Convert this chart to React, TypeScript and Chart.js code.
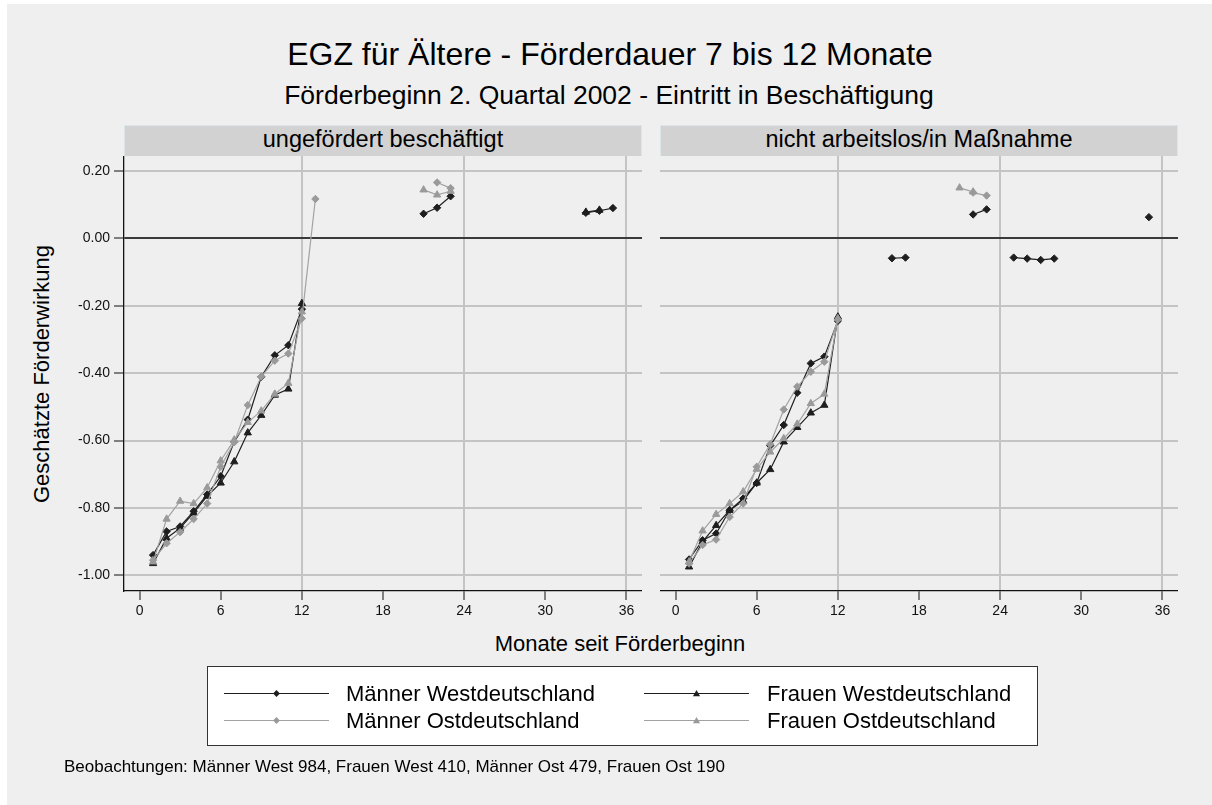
import React, { useEffect, useRef } from "react";
import { Chart, registerables } from "chart.js";

Chart.register(...registerables);

const FONT = "'Liberation Sans', Arial, Helvetica, sans-serif";
const _ = null;

// Months since start of support (x values)
const MONTHS = [
  1, 2, 3, 4, 5, 6, 7, 8, 9, 10, 11, 12, 13, 14, 15, 16, 17, 18,
  19, 20, 21, 22, 23, 24, 25, 26, 27, 28, 29, 30, 31, 32, 33, 34, 35,
];
const X_TICKS = [0, 6, 12, 18, 24, 30, 36];
const X_GRID = [12, 24, 36];
const Y_TICKS = [-1, -0.8, -0.6, -0.4, -0.2, 0, 0.2];

const TITLE = "EGZ für Ältere - Förderdauer 7 bis 12 Monate";
const SUBTITLE = "Förderbeginn 2. Quartal 2002 - Eintritt in Beschäftigung";
const PANEL_TITLES = ["ungefördert beschäftigt", "nicht arbeitslos/in Maßnahme"];
const Y_TITLE = "Geschätzte Förderwirkung";
const X_TITLE = "Monate seit Förderbeginn";
const SERIES_LABELS = [
  "Männer Westdeutschland",
  "Frauen Westdeutschland",
  "Männer Ostdeutschland",
  "Frauen Ostdeutschland",
];
const NOTE =
  "Beobachtungen: Männer West 984, Frauen West 410, Männer Ost 479, Frauen Ost 190";

// ---- Left panel: ungefördert beschäftigt ----
const leftMaennerWest = [
  -0.94, -0.87, -0.855, -0.81, -0.76, -0.706, -0.604, -0.538, -0.411, -0.347, -0.317, -0.21,
  _, _, _, _, _, _, _, _,
  0.073, 0.091, 0.125,
  _, _, _, _, _, _, _, _, _,
  0.076, 0.082, 0.09,
];
const leftFrauenWest = [
  -0.965, -0.89, -0.86, -0.815, -0.765, -0.726, -0.663, -0.577, -0.525, -0.465, -0.447, -0.193,
  _, _, _, _, _, _, _, _, _, _, _, _, _, _, _, _, _, _, _, _,
  0.078, 0.084, _,
];
const leftMaennerOst = [
  -0.955, -0.905, -0.872, -0.833, -0.787, -0.678, -0.605, -0.495, -0.41, -0.363, -0.342, -0.238,
  0.117,
  _, _, _, _, _, _, _, _,
  0.166, 0.149,
  _, _, _, _, _, _, _, _, _, _, _, _,
];
const leftFrauenOst = [
  -0.96, -0.833, -0.78, -0.787, -0.74, -0.66, -0.598, -0.546, -0.512, -0.462, -0.43, -0.218,
  _, _, _, _, _, _, _, _,
  0.144, 0.129, 0.14,
  _, _, _, _, _, _, _, _, _, _, _, _,
];

// ---- Right panel: nicht arbeitslos/in Maßnahme ----
const rightMaennerWest = [
  -0.953, -0.896, -0.876, -0.807, -0.772, -0.726, -0.615, -0.554, -0.458, -0.371, -0.351, -0.245,
  _, _, _,
  -0.059, -0.057,
  _, _, _, _,
  0.071, 0.086,
  _,
  -0.057, -0.06, -0.064, -0.06,
  _, _, _, _, _, _,
  0.063,
];
const rightFrauenWest = [
  -0.975, -0.9, -0.852, -0.807, -0.779, -0.726, -0.686, -0.604, -0.561, -0.518, -0.495, -0.233,
  _, _, _, _, _, _, _, _, _, _, _, _, _, _, _, _, _, _, _, _, _, _, _,
];
const rightMaennerOst = [
  -0.965, -0.91, -0.894, -0.827, -0.787, -0.678, -0.611, -0.508, -0.44, -0.396, -0.366, -0.241,
  _, _, _, _, _, _, _, _, _,
  0.136, 0.127,
  _, _, _, _, _, _, _, _, _, _, _, _,
];
const rightFrauenOst = [
  -0.96, -0.868, -0.819, -0.787, -0.752, -0.685, -0.634, -0.594, -0.551, -0.49, -0.462, -0.238,
  _, _, _, _, _, _, _, _,
  0.15, 0.138,
  _, _, _, _, _, _, _, _, _, _, _, _, _,
];

const LEFT_SERIES = [leftMaennerWest, leftFrauenWest, leftMaennerOst, leftFrauenOst];
const RIGHT_SERIES = [rightMaennerWest, rightFrauenWest, rightMaennerOst, rightFrauenOst];

const BLACK = "#1e1e1e";
const GRAY_LINE = "#a2a2a2";
const GRAY_MARK = "#9a9a9a";

const STYLES = [
  { line: BLACK, mark: BLACK, point: "rectRot", radius: 3.7, order: 3 },
  { line: BLACK, mark: BLACK, point: "triangle", radius: 4.2, order: 2 },
  { line: GRAY_LINE, mark: GRAY_MARK, point: "rectRot", radius: 3.7, order: 1 },
  { line: GRAY_LINE, mark: GRAY_MARK, point: "triangle", radius: 4.2, order: 0 },
];

const X_MIN = -1.15;
const X_MAX = 37.15;
const Y_MIN = -1.0466;
const Y_MAX = 0.2445;

const PLOT_TOP = 156;
const CANVAS_H = 475;
const X_AXIS_H = 40;

function noPadding(s: any) {
  s.paddingTop = 0;
  s.paddingBottom = 0;
  s.paddingLeft = 0;
  s.paddingRight = 0;
}

function PanelChart(props: { series: (number | null)[][]; showY: boolean; left: number; width: number }) {
  const { series, showY, left, width } = props;
  const ref = useRef<HTMLCanvasElement>(null);
  useEffect(() => {
    if (!ref.current) return;
    const chart = new Chart(ref.current, {
      type: "line",
      data: {
        datasets: series.map((vals, i) => ({
          label: SERIES_LABELS[i],
          data: MONTHS.map((m, j) => ({ x: m, y: vals[j] })),
          borderColor: STYLES[i].line,
          backgroundColor: STYLES[i].mark,
          pointBackgroundColor: STYLES[i].mark,
          pointBorderColor: STYLES[i].mark,
          borderWidth: 1.2,
          pointStyle: STYLES[i].point as any,
          pointRadius: STYLES[i].radius,
          pointBorderWidth: 1,
          order: STYLES[i].order,
          spanGaps: false,
          tension: 0,
        })),
      },
      options: {
        responsive: false,
        animation: false,
        events: [],
        layout: { padding: 0, autoPadding: false },
        plugins: {
          legend: { display: false },
          tooltip: { enabled: false },
          title: { display: false },
        },
        scales: {
          x: {
            type: "linear",
            min: X_MIN,
            max: X_MAX,
            afterBuildTicks: (s: any) => {
              s.ticks = X_TICKS.map((v) => ({ value: v }));
            },
            afterFit: (s: any) => {
              s.height = X_AXIS_H;
              noPadding(s);
            },
            ticks: {
              autoSkip: false,
              maxRotation: 0,
              padding: 3,
              color: "#111",
              font: { family: FONT, size: 14 },
              callback: (v: any) => String(v),
            },
            grid: {
              color: (ctx: any) =>
                ctx.tick && X_GRID.includes(ctx.tick.value) ? "#c4c4c4" : "rgba(0,0,0,0)",
              lineWidth: 2,
              tickColor: "#111",
              tickLength: 9,
              tickWidth: 1,
            },
            border: { display: true, color: "#111", width: 1.3 },
          },
          y: {
            type: "linear",
            min: Y_MIN,
            max: Y_MAX,
            afterBuildTicks: (s: any) => {
              s.ticks = Y_TICKS.map((v) => ({ value: v }));
            },
            afterFit: (s: any) => {
              s.width = showY ? 64 : 0;
              noPadding(s);
            },
            ticks: {
              display: showY,
              padding: 4,
              color: "#111",
              font: { family: FONT, size: 14 },
              callback: (v: any) => Number(v).toFixed(2),
            },
            grid: {
              color: (ctx: any) => (ctx.tick && ctx.tick.value === 0 ? "#3a3a3a" : "#c4c4c4"),
              lineWidth: 2,
              drawTicks: showY,
              tickColor: "#111",
              tickLength: 10,
              tickWidth: 1,
            },
            border: { display: showY, color: "#111", width: 1.3 },
          },
        },
      },
    } as any);
    return () => chart.destroy();
  }, []);
  return (
    <canvas
      ref={ref}
      width={width}
      height={CANVAS_H}
      style={{ position: "absolute", left, top: PLOT_TOP, width, height: CANVAS_H }}
    />
  );
}

// Text placed by its baseline (Arial/Liberation metrics, line-height 1)
function Text(props: {
  text: string;
  size: number;
  baseline: number;
  center?: number;
  left?: number;
}) {
  const { text, size, baseline, center, left } = props;
  const top = baseline - 0.8465 * size;
  const style: React.CSSProperties = {
    position: "absolute",
    top,
    fontFamily: FONT,
    fontSize: size,
    lineHeight: 1,
    whiteSpace: "nowrap",
    color: "#000",
  };
  if (center !== undefined) {
    style.left = center - 600;
    style.width = 1200;
    style.textAlign = "center";
  } else {
    style.left = left;
  }
  return <div style={style}>{text}</div>;
}

const STRIP_FONT = 23.5;

function Strip(props: { left: number; width: number; text: string }) {
  return (
    <div
      style={{
        position: "absolute",
        left: props.left,
        top: 125,
        width: props.width,
        height: 31,
        boxSizing: "border-box",
        background: "#d2d2d2",
        border: "1px solid #dbe5ea",
        borderBottom: "none",
      }}
    >
      <div
        style={{
          position: "absolute",
          left: 0,
          right: 0,
          top: 147 - 125 - 0.8465 * STRIP_FONT,
          textAlign: "center",
          fontFamily: FONT,
          fontSize: STRIP_FONT,
          lineHeight: 1,
          whiteSpace: "nowrap",
          color: "#000",
        }}
      >
        {props.text}
      </div>
    </div>
  );
}

function Marker(props: { kind: string; cx: number; cy: number; color: string }) {
  const { kind, cx, cy, color } = props;
  if (kind === "rectRot") {
    const r = 3.4;
    return (
      <polygon
        points={`${cx},${cy - r} ${cx + r},${cy} ${cx},${cy + r} ${cx - r},${cy}`}
        fill={color}
      />
    );
  }
  const r = 3.6;
  return (
    <polygon
      points={`${cx},${cy - r} ${cx + r},${cy + r * 0.75} ${cx - r},${cy + r * 0.75}`}
      fill={color}
    />
  );
}

function Legend() {
  const rowsY = [693.5, 720.5];
  const cols = [
    { x1: 224, x2: 329, text: 346 },
    { x1: 644, x2: 749, text: 767 },
  ];
  const items = [
    { col: 0, row: 0, s: 0 },
    { col: 1, row: 0, s: 1 },
    { col: 0, row: 1, s: 2 },
    { col: 1, row: 1, s: 3 },
  ];
  return (
    <>
      <div
        style={{
          position: "absolute",
          left: 207,
          top: 666,
          width: 831,
          height: 80,
          boxSizing: "border-box",
          background: "#fff",
          border: "1px solid #333",
        }}
      />
      <svg
        width={1212}
        height={805}
        style={{ position: "absolute", left: 0, top: 0, pointerEvents: "none" }}
      >
        {items.map((it, k) => {
          const c = cols[it.col];
          const y = rowsY[it.row];
          const st = STYLES[it.s];
          return (
            <g key={k}>
              <line x1={c.x1} x2={c.x2} y1={y} y2={y} stroke={st.line} strokeWidth={1.2} />
              <Marker kind={st.point} cx={(c.x1 + c.x2) / 2} cy={y} color={st.mark} />
            </g>
          );
        })}
      </svg>
      {items.map((it, k) => (
        <Text
          key={k}
          text={SERIES_LABELS[it.s]}
          size={22}
          baseline={rowsY[it.row] + 0.358 * 22}
          left={cols[it.col].text}
        />
      ))}
    </>
  );
}

export default function App() {
  return (
    <div
      style={{
        position: "absolute",
        left: 0,
        top: 0,
        width: 1212,
        height: 805,
        background: "#fff",
        overflow: "hidden",
      }}
    >
      <div
        style={{
          position: "absolute",
          left: 7,
          top: 4,
          width: 1205,
          height: 801,
          background: "#efefef",
        }}
      />
      <Text text={TITLE} size={32} baseline={65} center={610} />
      <Text text={SUBTITLE} size={26.5} baseline={104} center={609} />

      <Strip left={124} width={518} text={PANEL_TITLES[0]} />
      <Strip left={660} width={518} text={PANEL_TITLES[1]} />

      <PanelChart series={LEFT_SERIES} showY={true} left={60} width={582} />
      <PanelChart series={RIGHT_SERIES} showY={false} left={660} width={518} />

      <div
        style={{
          position: "absolute",
          left: 42 - 200,
          top: 373.5 - 11,
          width: 400,
          height: 22,
          transform: "rotate(-90deg)",
          textAlign: "center",
          fontFamily: FONT,
          fontSize: 22,
          lineHeight: "22px",
          whiteSpace: "nowrap",
          color: "#000",
        }}
      >
        {Y_TITLE}
      </div>

      <Text text={X_TITLE} size={22} baseline={651.7} center={620} />

      <Legend />

      <Text text={NOTE} size={17} baseline={772} left={64} />
    </div>
  );
}
